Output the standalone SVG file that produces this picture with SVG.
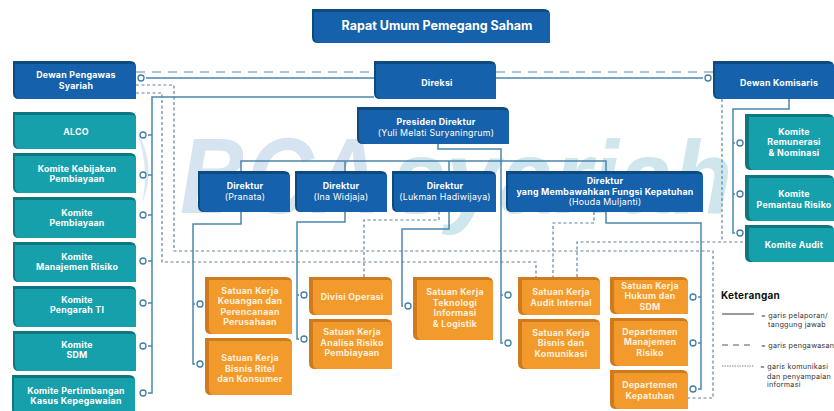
<svg xmlns="http://www.w3.org/2000/svg" width="834" height="411" viewBox="0 0 834 411">
<style>
text{font-family:"Inter","Liberation Sans",sans-serif;text-anchor:middle;fill:#fff;font-size:8.8px;font-weight:700;letter-spacing:.25px}
.n{font-weight:400}
.o text{fill:#fdf0dc}
.b .d{fill:#0d4a7e}.b .f{fill:#1561ab}
.t .d{fill:#0d7681}.t .f{fill:#16a0ac}
.o .d{fill:#cf7a1c}.o .f{fill:#f39a2d}
.l,.da,.do{fill:none}
.l{stroke:#4a86ad;stroke-width:1.5}
.da{stroke:#8db1cd;stroke-width:1.3;stroke-dasharray:9 7}
.do{stroke:#5f83a3;stroke-width:1.2;stroke-dasharray:3 2.5}
circle{fill:#fff;stroke:#3f7ea5;stroke-width:1.3}
.lg{fill:#333;font-weight:400;font-size:7.2px;text-anchor:start}
.w{font-family:"Liberation Sans",sans-serif;font-style:italic;font-weight:700;text-anchor:start;letter-spacing:0}
</style>
<rect width="834" height="411" fill="#fff"/>
<g id="watermark">
<path d="M136 130Q158 165 142 204Q150 165 136 130Z" fill="#dde8f3"/>
<text class="w" x="180" y="213" style="font-size:108px;fill:#d6e3f0" textLength="200" lengthAdjust="spacingAndGlyphs">BCA</text>
<text class="w" x="392" y="213" style="font-size:104px;fill:#cfe6ec" textLength="340" lengthAdjust="spacingAndGlyphs">syariah</text>
</g>
<g id="connectors">
<path class="da" d="M136 72H374M496 72H713"/>
<path class="do" d="M136 85H174V251H713V398H688M136 93H162V262H536V277M364 277V220H439V212M594 212V223H553V277M577 277V242H745M722 99V242"/>
<path class="l" d="M146 78H374M496 78H703M374 97H152V393H148M148 135H152M148 175H152M148 215H152M148 261H152M148 303H152M148 346H152"/>
<path class="l" d="M241 171V161H606V171M345 161V171M449 161V171M438 144V149H501V343H503M501 295H503"/>
<path class="l" d="M241 212V224H193V364H195M193 304H195M345 212V222H297V339H299M297 295H299M449 212V229H402V306H403M606 212V223H701V389H698M698 297H701M698 343H701"/>
<path class="l" d="M789 99V109H733V233H735M733 143H735M733 194H735"/>
<circle cx="141" cy="78" r="3"/><circle cx="708" cy="78" r="3"/>
<circle cx="143" cy="135" r="3"/><circle cx="143" cy="175" r="3"/><circle cx="143" cy="215" r="3"/><circle cx="143" cy="261" r="3"/><circle cx="143" cy="303" r="3"/><circle cx="143" cy="346" r="3"/><circle cx="143" cy="393" r="3"/>
<circle cx="200" cy="304" r="3"/><circle cx="200" cy="364" r="3"/><circle cx="304" cy="295" r="3"/><circle cx="304" cy="339" r="3"/><circle cx="408" cy="306" r="3"/>
<circle cx="508" cy="295" r="3"/><circle cx="508" cy="343" r="3"/>
<circle cx="693" cy="297" r="3"/><circle cx="693" cy="343" r="3"/><circle cx="693" cy="389" r="3"/>
<circle cx="740" cy="143" r="3"/><circle cx="740" cy="194" r="3"/><circle cx="740" cy="233" r="3"/>
</g>
<g id="rups" class="b"><path class="d" d="M312 9h232q6 0 6 6v28h-232q-6 0-6-6z"/><path class="f" d="M314 12h232q4 0 4 4v27h-230q-6 0-6-6z"/><text x="437" y="30" style="font-size:12.5px;letter-spacing:0">Rapat Umum Pemegang Saham</text></g>
<g id="dps" class="b"><path class="d" d="M13 61h117q6 0 6 6v32h-117q-6 0-6-6z"/><path class="f" d="M15 64h117q4 0 4 4v31h-115q-6 0-6-6z"/><text x="76" y="78">Dewan Pengawas</text><text x="76" y="89">Syariah</text></g>
<g id="direksi" class="b"><path class="d" d="M374 61h116q6 0 6 6v32h-116q-6 0-6-6z"/><path class="f" d="M376 64h116q4 0 4 4v31h-114q-6 0-6-6z"/><text x="437" y="86">Direksi</text></g>
<g id="komisaris" class="b"><path class="d" d="M713 61h115q6 0 6 6v32h-115q-6 0-6-6z"/><path class="f" d="M715 64h115q4 0 4 4v31h-113q-6 0-6-6z"/><text x="779" y="86">Dewan Komisaris</text></g>
<g id="presdir" class="b"><path class="d" d="M357 107h146q6 0 6 6v31h-146q-6 0-6-6z"/><path class="f" d="M359 110h146q4 0 4 4v30h-144q-6 0-6-6z"/><text x="436" y="125">Presiden Direktur</text><text class="n" x="436" y="136">(Yuli Melati Suryaningrum)</text></g>
<g id="dir-pranata" class="b"><path class="d" d="M198 171h86q6 0 6 6v35h-86q-6 0-6-6z"/><path class="f" d="M200 174h86q4 0 4 4v34h-84q-6 0-6-6z"/><text x="245" y="189">Direktur</text><text class="n" x="245" y="200">(Pranata)</text></g>
<g id="dir-ina" class="b"><path class="d" d="M295 171h86q6 0 6 6v35h-86q-6 0-6-6z"/><path class="f" d="M297 174h86q4 0 4 4v34h-84q-6 0-6-6z"/><text x="341" y="189">Direktur</text><text class="n" x="341" y="200">(Ina Widjaja)</text></g>
<g id="dir-lukman" class="b"><path class="d" d="M392 171h98q6 0 6 6v35h-98q-6 0-6-6z"/><path class="f" d="M394 174h98q4 0 4 4v34h-96q-6 0-6-6z"/><text x="445" y="189">Direktur</text><text class="n" x="445" y="200">(Lukman Hadiwijaya)</text></g>
<g id="dir-houda" class="b"><path class="d" d="M506 171h191q6 0 6 6v35h-191q-6 0-6-6z"/><path class="f" d="M508 174h191q4 0 4 4v34h-189q-6 0-6-6z"/><text x="605" y="184">Direktur</text><text x="605" y="195">yang Membawahkan Fungsi Kepatuhan</text><text class="n" x="605" y="205">(Houda Muljanti)</text></g>
<g id="alco" class="t"><path class="d" d="M13 112h117q6 0 6 6v31h-117q-6 0-6-6z"/><path class="f" d="M15 115h117q4 0 4 4v30h-115q-6 0-6-6z"/><text x="76" y="135">ALCO</text></g>
<g id="kebijakan" class="t"><path class="d" d="M13 153h117q6 0 6 6v34h-117q-6 0-6-6z"/><path class="f" d="M15 156h117q4 0 4 4v33h-115q-6 0-6-6z"/><text x="77" y="172">Komite Kebijakan</text><text x="77" y="182">Pembiayaan</text></g>
<g id="pembiayaan" class="t"><path class="d" d="M13 197h117q6 0 6 6v35h-117q-6 0-6-6z"/><path class="f" d="M15 200h117q4 0 4 4v34h-115q-6 0-6-6z"/><text x="77" y="216">Komite</text><text x="77" y="226">Pembiayaan</text></g>
<g id="manrisk" class="t"><path class="d" d="M13 242h117q6 0 6 6v34h-117q-6 0-6-6z"/><path class="f" d="M15 245h117q4 0 4 4v33h-115q-6 0-6-6z"/><text x="77" y="260">Komite</text><text x="77" y="270">Manajemen Risiko</text></g>
<g id="pengarah" class="t"><path class="d" d="M13 286h117q6 0 6 6v35h-117q-6 0-6-6z"/><path class="f" d="M15 289h117q4 0 4 4v34h-115q-6 0-6-6z"/><text x="77" y="303">Komite</text><text x="77" y="313">Pengarah TI</text></g>
<g id="sdm" class="t"><path class="d" d="M13 331h117q6 0 6 6v34h-117q-6 0-6-6z"/><path class="f" d="M15 334h117q4 0 4 4v33h-115q-6 0-6-6z"/><text x="77" y="348">Komite</text><text x="77" y="358">SDM</text></g>
<g id="kasus" class="t"><path class="d" d="M12 375h117q6 0 6 6v34h-117q-6 0-6-6z"/><path class="f" d="M14 378h117q4 0 4 4v33h-115q-6 0-6-6z"/><text x="76" y="394">Komite Pertimbangan</text><text x="76" y="404">Kasus Kepegawaian</text></g>
<g id="remunerasi" class="t"><path class="d" d="M745 114h83q6 0 6 6v50h-83q-6 0-6-6z"/><path class="f" d="M749 117h85v53h-79q-6 0-6-6z"/><text x="794" y="135">Komite</text><text x="794" y="145">Remunerasi</text><text x="794" y="156">&amp; Nominasi</text></g>
<g id="pemantau" class="t"><path class="d" d="M745 175h83q6 0 6 6v40h-83q-6 0-6-6z"/><path class="f" d="M749 178h85v43h-79q-6 0-6-6z"/><text x="794" y="197">Komite</text><text x="794" y="208">Pemantau Risiko</text></g>
<g id="audit" class="t"><path class="d" d="M745 225h83q6 0 6 6v31h-83q-6 0-6-6z"/><path class="f" d="M749 228h85v34h-79q-6 0-6-6z"/><text x="794" y="248">Komite Audit</text></g>
<g id="keuangan" class="o"><path class="d" d="M205 277h81q6 0 6 6v51h-81q-6 0-6-6z"/><path class="f" d="M209 280h79q4 0 4 4v50h-77q-6 0-6-6z"/><text x="250" y="294">Satuan Kerja</text><text x="250" y="304">Keuangan dan</text><text x="250" y="315">Perencanaan</text><text x="250" y="325">Perusahaan</text></g>
<g id="ritel" class="o"><path class="d" d="M205 338h81q6 0 6 6v51h-81q-6 0-6-6z"/><path class="f" d="M209 341h79q4 0 4 4v50h-77q-6 0-6-6z"/><text x="250" y="361">Satuan Kerja</text><text x="250" y="372">Bisnis Ritel</text><text x="250" y="382">dan Konsumer</text></g>
<g id="operasi" class="o"><path class="d" d="M309 277h77q6 0 6 6v32h-77q-6 0-6-6z"/><path class="f" d="M313 280h75q4 0 4 4v31h-73q-6 0-6-6z"/><text x="352" y="300">Divisi Operasi</text></g>
<g id="analisa" class="o"><path class="d" d="M309 319h77q6 0 6 6v44h-77q-6 0-6-6z"/><path class="f" d="M313 322h75q4 0 4 4v43h-73q-6 0-6-6z"/><text x="352" y="335">Satuan Kerja</text><text x="352" y="346">Analisa Risiko</text><text x="352" y="356">Pembiayaan</text></g>
<g id="teknologi" class="o"><path class="d" d="M413 277h74q6 0 6 6v57h-74q-6 0-6-6z"/><path class="f" d="M417 280h72q4 0 4 4v56h-70q-6 0-6-6z"/><text x="455" y="295">Satuan Kerja</text><text x="455" y="306">Teknologi</text><text x="455" y="316">Informasi</text><text x="455" y="327">&amp; Logistik</text></g>
<g id="skai" class="o"><path class="d" d="M518 277h76q6 0 6 6v32h-76q-6 0-6-6z"/><path class="f" d="M522 280h74q4 0 4 4v31h-72q-6 0-6-6z"/><text x="561" y="295">Satuan Kerja</text><text x="561" y="306">Audit Internal</text></g>
<g id="komunikasi" class="o"><path class="d" d="M518 319h76q6 0 6 6v44h-76q-6 0-6-6z"/><path class="f" d="M522 322h74q4 0 4 4v43h-72q-6 0-6-6z"/><text x="561" y="336">Satuan Kerja</text><text x="561" y="346">Bisnis dan</text><text x="561" y="357">Komunikasi</text></g>
<g id="hukum" class="o"><path class="d" d="M610 277h72q6 0 6 6v31h-72q-6 0-6-6z"/><path class="f" d="M614 280h70q4 0 4 4v30h-68q-6 0-6-6z"/><text x="650" y="289">Satuan Kerja</text><text x="650" y="299">Hukum dan</text><text x="650" y="310">SDM</text></g>
<g id="dmr" class="o"><path class="d" d="M610 318h72q6 0 6 6v42h-72q-6 0-6-6z"/><path class="f" d="M614 321h70q4 0 4 4v41h-68q-6 0-6-6z"/><text x="650" y="335">Departemen</text><text x="650" y="345">Manajemen</text><text x="650" y="356">Risiko</text></g>
<g id="kepatuhan" class="o"><path class="d" d="M610 370h72q6 0 6 6v33h-72q-6 0-6-6z"/><path class="f" d="M614 373h70q4 0 4 4v32h-68q-6 0-6-6z"/><text x="650" y="388">Departemen</text><text x="650" y="399">Kepatuhan</text></g>
<g id="legend">
<text x="721" y="299" style="text-anchor:start;fill:#111;font-size:10px">Keterangan</text>
<path d="M722 314H754" stroke="#222" stroke-width=".9" fill="none"/>
<path d="M722 345H754" stroke="#444" stroke-width=".9" stroke-dasharray="6 5" fill="none"/>
<path d="M722 366H754" stroke="#777" stroke-width=".9" stroke-dasharray="1.5 1" fill="none"/>
<text class="lg" x="761" y="318">= garis pelaporan/</text><text class="lg" x="768" y="327">tanggung jawab</text>
<text class="lg" x="761" y="348">= garis pengawasan</text>
<text class="lg" x="760" y="369">= garis komunikasi</text><text class="lg" x="767" y="379">dan penyampaian</text><text class="lg" x="767" y="387">informasi</text>
</g>
</svg>
